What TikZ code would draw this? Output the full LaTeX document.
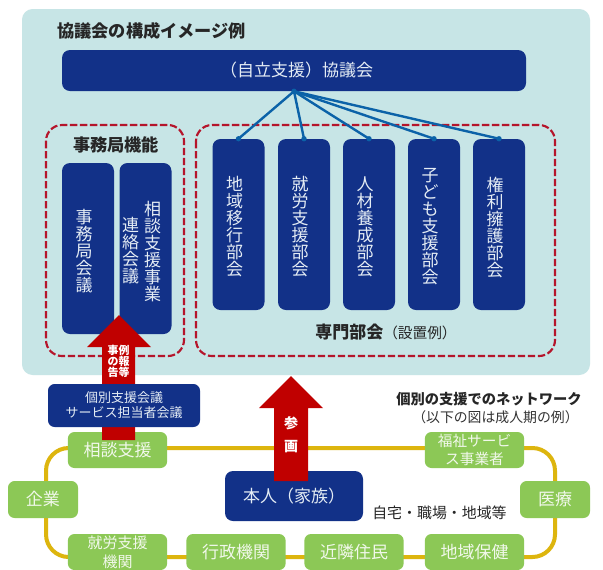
\documentclass[tikz,border=0pt]{standalone}
\usepackage{fontspec}
\setmainfont{Noto Sans CJK JP}
\usetikzlibrary{positioning}
\definecolor{panel}{HTML}{C7E5E6}
\definecolor{navy}{HTML}{123188}
\definecolor{dashred}{HTML}{B5152B}
\definecolor{arrowred}{HTML}{C00000}
\definecolor{leaf}{HTML}{8CC856}
\definecolor{gold}{HTML}{DDB50E}
\definecolor{linkblue}{HTML}{0B62A8}
\definecolor{softtxt}{HTML}{E4ECF4}
\newcommand{\pxf}[2]{\fontsize{#1}{#2}\selectfont\lineskiplimit=-30pt\relax}
\newcommand{\tatebox}[1]{\begin{minipage}[c]{1em}\centering\lineskiplimit=-30pt\relax #1\end{minipage}}
\newcommand{\tatelow}[1]{\begin{minipage}[c]{1em}\vspace*{3.8pt}\centering\lineskiplimit=-30pt\relax #1\end{minipage}}
\tikzset{
  x=0.75pt,y=-0.75pt,
  navybox/.style={fill=navy,text=softtxt,rounded corners=6pt,inner sep=0pt,align=center},
  leafbox/.style={fill=leaf,text=white!88!leaf,rounded corners=5pt,inner sep=0pt,align=center,font=\pxf{12.75pt}{15pt}},
  dashframe/.style={draw=dashred,line width=1.6pt,dash pattern=on 5.5pt off 2pt,rounded corners=12pt},
  ringline/.style={draw=gold,line width=3pt,rounded corners=17pt},
  bigarrow/.style={fill=arrowred,draw=none},
  linkline/.style={draw=linkblue,line width=1.8pt},
  linkdot/.style={fill=linkblue,draw=none},
  heading/.style={text=black!85,inner sep=0pt,font=\pxf{12.9pt}{12.9pt}\bfseries},
  tatecol/.style={navybox,minimum width=39pt,minimum height=128.25pt,font=\pxf{12.75pt}{12.75pt}},
}
\begin{document}
\begin{tikzpicture}
\useasboundingbox (0,0) rectangle (603,569);
\fill[white] (0,0) rectangle (603,569);
% panel
\fill[panel,rounded corners=8pt] (22,9) rectangle (590,375);
\node[heading,anchor=west] (title) at (57,31) {協議会の構成イメージ例};
% dashed frames
\draw[dashframe] (46,125) rectangle (184,356);
\draw[dashframe] (196,125) rectangle (555,356);
\node[heading] (jimu) at (116,145) {事務局機能};
\node[text=black!85,anchor=west,inner sep=0pt] (senmon) at (315,332) {\pxf{12.75pt}{12.75pt}\bfseries 専門部会\pxf{11pt}{11pt}\mdseries（設置例）};
% top box
\node[navybox,minimum width=348pt,minimum height=30.75pt,font=\pxf{12.75pt}{12.75pt}] (kyo) at (294,70.5) {\hspace*{4pt}（自立支援）協議会};
% departments
\begin{scope}[every node/.style={tatecol}]
\node (d1) at (238.5,224.5) {\tatelow{地\\域\\移\\行\\部\\会}\hspace*{6pt}};
\node (d2) at (304,224.5) {\tatelow{就\\労\\支\\援\\部\\会}\hspace*{6pt}};
\node (d3) at (369,224.5) {\tatelow{人\\材\\養\\成\\部\\会}\hspace*{6pt}};
\node (d4) at (434,224.5) {\tatelow{子\\ど\\も\\支\\援\\部\\会}\hspace*{6pt}};
\node (d5) at (499,224.5) {\tatelow{権\\利\\擁\\護\\部\\会}\hspace*{6pt}};
\end{scope}
\coordinate (hub) at (kyo.south);
\foreach \d in {d1,d2,d3,d4,d5}{
  \draw[linkline] (hub) -- (\d.north);
  \fill[linkdot] (\d.north) circle (2pt);
}
\fill[linkdot] (hub) circle (2pt);
% secretariat boxes
\begin{scope}[every node/.style={tatecol}]
\node (s1) at (88,248.5) {\tatelow{事\\務\\局\\会\\議}\hspace*{6pt}};
\node (s2) at (145.5,248.5) {\tatelow{連\\絡\\会\\議}\hspace{3.75pt}\tatelow{相\\談\\支\\援\\事\\業}\hspace*{6pt}};
\end{scope}
% ring
\coordinate (r1) at (46,448);
\coordinate (r2) at (555,448);
\coordinate (r3) at (555,557);
\coordinate (r4) at (46,557);
\draw[ringline] (r1) -- (r2) -- (r3) -- (r4) -- cycle;
% green boxes
\begin{scope}[every node/.style={leafbox,minimum width=74.5pt,minimum height=27pt}]
\node (soudan) at (117.5,450) {相談支援};
\node[font=\pxf{11pt}{13.5pt}] (fukushi) at (474.5,450) {福祉サービ\\ス事業者};
\node[font=\pxf{11.25pt}{14.25pt}] (shuro) at (117.5,552) {就労支援\\機関};
\node (gyosei) at (236,552) {行政機関};
\node (kinrin) at (354,552) {近隣住民};
\node (hoken) at (474.5,552) {地域保健};
\end{scope}
\begin{scope}[every node/.style={leafbox,minimum width=52.5pt,minimum height=27.75pt}]
\node (kigyo) at (43,499.5) {企業};
\node (iryo) at (555,499.5) {医療};
\end{scope}
% arrow 1
\fill[bigarrow] (119,315) -- (151,347) -- (135,347) -- (135,440) -- (102,440) -- (102,347) -- (87,347) -- cycle;
\node[navybox,minimum width=114pt,minimum height=32.25pt,rounded corners=5pt,font=\pxf{9.75pt}{11.25pt}] (kobetsu) at (124,405.5) {個別支援会議\\サービス担当者会議};
\node[text=white,inner sep=0pt,align=center,font=\pxf{8.2pt}{8.3pt}\bfseries] (jirei) at (118.5,361.5) {\tatebox{事\\の\\告}\tatebox{例\\報\\等}};
% person
\node[navybox,minimum width=103.5pt,minimum height=37.5pt,font=\pxf{12.75pt}{12.75pt}] (honnin) at (294,496) {本人（家族）};
% arrow 2
\fill[bigarrow] (291,376) -- (323,408) -- (308,408) -- (308,481) -- (274,481) -- (274,408) -- (259,408) -- cycle;
\node[text=white,inner sep=0pt,align=center,font=\pxf{10.5pt}{17pt}\bfseries] (sankaku) at (291,434.5) {参\\画};
% captions
\node[inner sep=0pt,text=black!85,anchor=west,font=\pxf{10.7pt}{10.7pt}\bfseries] (net) at (396,399) {個別の支援でのネットワーク};
\node[inner sep=0pt,text=black!80,anchor=west,font=\pxf{10.4pt}{10.4pt}] (rei) at (412,417) {（以下の図は成人期の例）};
\node[inner sep=0pt,text=black!85,anchor=west,font=\pxf{11.2pt}{11.2pt}] (home) at (372,513) {自宅・職場・地域等};
\end{tikzpicture}
\end{document}
